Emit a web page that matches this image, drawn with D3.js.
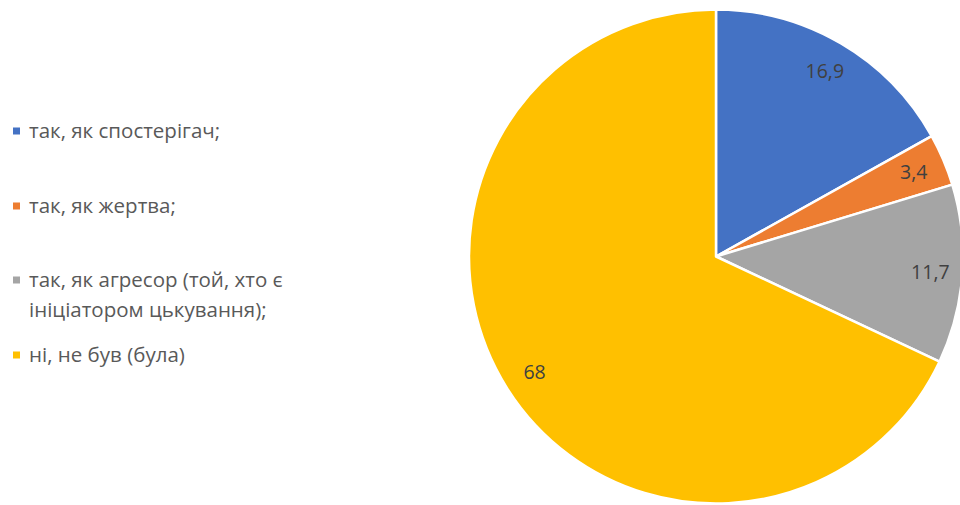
<!DOCTYPE html>
<html>
<head>
<meta charset="utf-8">
<script src="https://cdn.jsdelivr.net/npm/d3@7"></script>
<style>
  body { margin: 0; background: #fff; }
  svg { display: block; font-family: "Open Sans", "Noto Sans", sans-serif; }
</style>
</head>
<body>
<svg id="chart" width="960" height="505"></svg>
<script>
const categories = [
  'так, як спостерігач;',
  'так, як жертва;',
  'так, як агресор (той, хто є ініціатором цькування);',
  'ні, не був (була)'
];
const legendLines = [
  ['так, як спостерігач;'],
  ['так, як жертва;'],
  ['так, як агресор (той, хто є', 'ініціатором цькування);'],
  ['ні, не був (була)']
];
const values = [16.9, 3.4, 11.7, 68];
const valueLabels = ['16,9', '3,4', '11,7', '68'];
const colors = ['#4472c4', '#ed7d31', '#a5a5a5', '#ffc000'];

const svg = d3.select('#chart');
const cx = 716, cy = 256.5, r = 247;

const color = d3.scaleOrdinal().domain(categories).range(colors);

const pie = d3.pie().sort(null).value(d => d.value);
const data = categories.map((c, i) => ({ name: c, value: values[i], label: valueLabels[i], lines: legendLines[i] }));
const arcs = pie(data);

const arc = d3.arc().innerRadius(0).outerRadius(r);
const labelArc = d3.arc().innerRadius(r * 0.87).outerRadius(r * 0.87);

const g = svg.append('g').attr('transform', `translate(${cx},${cy})`);

g.selectAll('path.slice')
  .data(arcs)
  .join('path')
  .attr('class', 'slice')
  .attr('d', arc)
  .attr('fill', d => color(d.data.name))
  .attr('stroke', '#fff')
  .attr('stroke-width', 2.5)
  .attr('stroke-linejoin', 'round');

g.selectAll('text.value')
  .data(arcs)
  .join('text')
  .attr('class', 'value')
  .attr('transform', d => `translate(${labelArc.centroid(d)})`)
  .attr('text-anchor', 'middle')
  .attr('dy', '0.36em')
  .attr('font-size', 19.5)
  .attr('fill', '#404040')
  .text(d => d.data.label);

// legend
const legendY = [131, 206, 280, 355];
const lineH = 30;
const legend = svg.append('g');
const items = legend.selectAll('g.item')
  .data(data)
  .join('g')
  .attr('class', 'item')
  .attr('transform', (d, i) => `translate(13,${legendY[i]})`);

items.append('rect')
  .attr('x', 0)
  .attr('y', -3.5)
  .attr('width', 7)
  .attr('height', 7)
  .attr('fill', d => color(d.name));

items.append('text')
  .attr('font-size', 20.5)
  .attr('fill', '#595959')
  .selectAll('tspan')
  .data(d => d.lines)
  .join('tspan')
  .attr('x', 16)
  .attr('y', (d, i) => i * lineH)
  .attr('dy', '0.32em')
  .text(d => d);
</script>
</body>
</html>
